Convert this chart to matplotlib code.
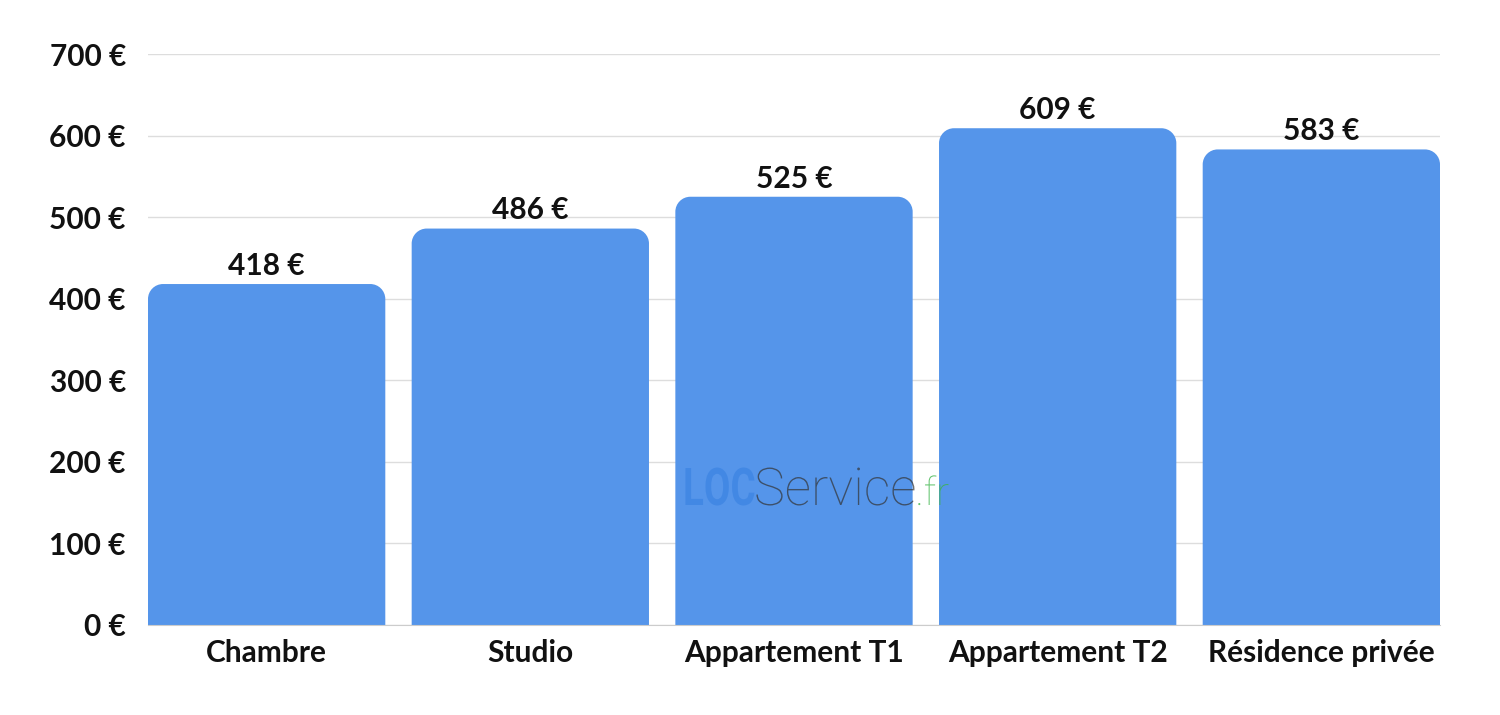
import matplotlib.pyplot as plt
import numpy as np
from matplotlib.path import Path
from matplotlib.patches import PathPatch
from matplotlib.textpath import TextPath
from matplotlib.font_manager import FontProperties
from matplotlib.transforms import Affine2D, IdentityTransform

categories = ['Chambre', 'Studio', 'Appartement T1', 'Appartement T2', 'Résidence privée']
loyers = [418, 486, 525, 609, 583]
yticks = [0, 100, 200, 300, 400, 500, 600, 700]

bar_color = '#5595ea'
plt.rcParams['font.family'] = ['Lato', 'DejaVu Sans']

fig = plt.figure(figsize=(15, 7.15), dpi=100)
ax = fig.add_axes([148/1500, 90/715, 1292/1500, 571/715])

x = np.arange(len(categories))
bars = ax.bar(x, loyers, width=0.9, color=bar_color)
ax.set_xlim(-0.45, len(categories) - 0.55)
ax.set_ylim(0, 700)

# coins arrondis en haut des barres (rayon ~15 px)
fig.canvas.draw()
px_x = ax.transData.transform((1, 0))[0] - ax.transData.transform((0, 0))[0]
px_y = ax.transData.transform((0, 1))[1] - ax.transData.transform((0, 0))[1]
rx, ry = 15 / px_x, 15 / px_y
k = 0.5523
for b in bars:
    x0, w, h = b.get_x(), b.get_width(), b.get_height()
    x1 = x0 + w
    verts = [(x0, 0), (x0, h - ry),
             (x0, h - ry + k*ry), (x0 + rx - k*rx, h), (x0 + rx, h),
             (x1 - rx, h),
             (x1 - rx + k*rx, h), (x1, h - ry + k*ry), (x1, h - ry),
             (x1, 0), (x0, 0)]
    codes = [Path.MOVETO, Path.LINETO,
             Path.CURVE4, Path.CURVE4, Path.CURVE4,
             Path.LINETO,
             Path.CURVE4, Path.CURVE4, Path.CURVE4,
             Path.LINETO, Path.CLOSEPOLY]
    b.set_visible(False)
    ax.add_patch(PathPatch(Path(verts, codes), facecolor=bar_color, edgecolor='none', zorder=2))

fs = 21.5
for xi, v in zip(x, loyers):
    ax.annotate(f'{v} €', (xi, v), xytext=(0, 3), textcoords='offset points',
                ha='center', va='bottom', fontsize=fs, fontweight='bold', color='#111111')

ax.set_yticks(yticks)
ax.set_yticklabels([f'{t} €' for t in yticks], fontsize=fs, fontweight='bold', color='#111111')
ax.set_xticks(x)
ax.set_xticklabels(categories, fontsize=fs, fontweight='bold', color='#111111')
ax.tick_params(axis='y', length=0, pad=16)
ax.tick_params(axis='x', length=0, pad=10)
ax.grid(axis='y', color='#dddddd', linewidth=1)
ax.set_axisbelow(True)
for s in ['top', 'right', 'left']:
    ax.spines[s].set_visible(False)
ax.spines['bottom'].set_color('#cccccc')

# filigrane LOCService.fr
size = 52
p_loc = TextPath((0, 0), 'LOC', size=size, prop=FontProperties(family='Roboto', weight='bold'))
p_srv = TextPath((0, 0), 'Service', size=size, prop=FontProperties(family='Roboto', weight='light'))
p_fr = TextPath((0, 0), '.fr', size=size*0.75, prop=FontProperties(family='Roboto', weight='light'))
x_px, y_px = 683, 715 - 505
sx = 69 / p_loc.get_extents().width
fig.patches.append(PathPatch(p_loc, transform=Affine2D().scale(sx, 1).translate(x_px, y_px) + IdentityTransform(),
                             facecolor='#3f86e4', edgecolor='none', alpha=0.85, zorder=5))
x_px += 69 + 2
fig.patches.append(PathPatch(p_srv, transform=Affine2D().translate(x_px, y_px) + IdentityTransform(),
                             facecolor='#333333', edgecolor='none', alpha=0.7, zorder=5))
x_px += p_srv.get_extents().x1 + 1
fig.patches.append(PathPatch(p_fr, transform=Affine2D().translate(x_px, y_px) + IdentityTransform(),
                             facecolor='#3cb54a', edgecolor='none', alpha=0.8, zorder=5))

fig.savefig('out.png', dpi=100)
